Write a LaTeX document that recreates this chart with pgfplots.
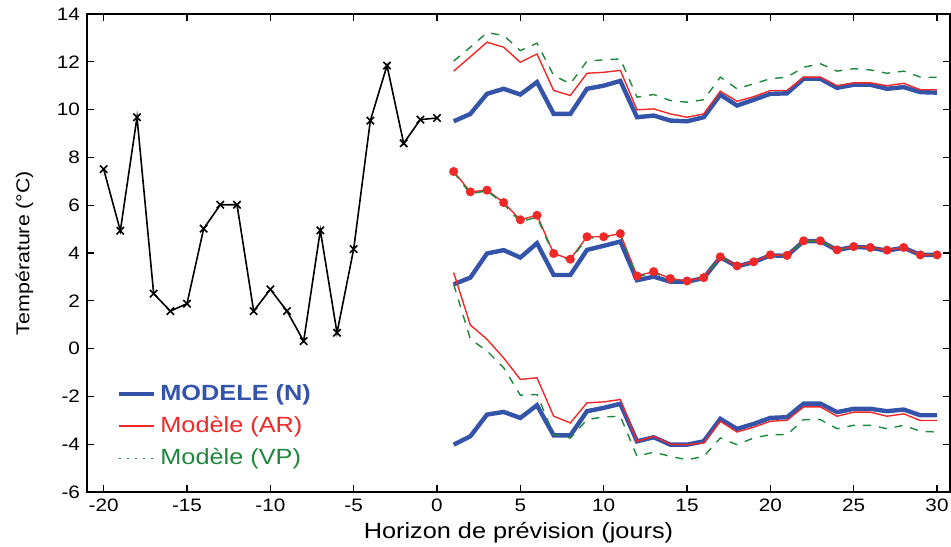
\documentclass[border=0pt]{standalone}
\usepackage{fontspec}
\setmainfont{Liberation Sans}[FakeStretch=1.15]
\usepackage{pgfplots}
\usepackage{pgfplotstable}
\pgfplotsset{compat=1.18}
\definecolor{modN}{RGB}{52,84,170}
\definecolor{modAR}{RGB}{240,40,40}
\definecolor{modVP}{RGB}{30,135,60}

% observed temperatures, days -20..0
\pgfplotstableread{
d t
-20 7.51
-19 4.93
-18 9.68
-17 2.30
-16 1.57
-15 1.88
-14 5.02
-13 6.02
-12 6.02
-11 1.57
-10 2.48
-9 1.57
-8 0.31
-7 4.95
-6 0.66
-5 4.16
-4 9.54
-3 11.84
-2 8.59
-1 9.58
0 9.65
}\tabobs

% upper bound
\pgfplotstableread{
d n ar vp
1 9.51 11.61 12.03
2 9.82 12.21 12.61
3 10.66 12.82 13.22
4 10.87 12.61 13.10
5 10.63 11.98 12.47
6 11.15 12.33 12.78
7 9.82 10.80 11.43
8 9.82 10.59 11.08
9 10.87 11.52 12.03
10 11.00 11.56 12.08
11 11.20 11.64 12.12
12 9.68 9.99 10.52
13 9.75 10.03 10.63
14 9.54 9.82 10.38
15 9.51 9.68 10.31
16 9.68 9.82 10.41
17 10.62 10.77 11.36
18 10.17 10.35 10.87
19 10.41 10.54 11.08
20 10.66 10.80 11.29
21 10.68 10.80 11.36
22 11.29 11.36 11.77
23 11.29 11.36 11.92
24 10.91 11.00 11.61
25 11.04 11.12 11.71
26 11.04 11.12 11.66
27 10.87 11.00 11.52
28 10.94 11.10 11.61
29 10.73 10.83 11.36
30 10.71 10.83 11.35
}\tabup

% point forecast
\pgfplotstableread{
d n ar vp
1 2.69 7.41 7.38
2 2.97 6.56 6.48
3 3.98 6.63 6.60
4 4.12 6.11 6.05
5 3.81 5.39 5.30
6 4.41 5.58 5.50
7 3.08 3.98 3.92
8 3.08 3.74 3.70
9 4.13 4.68 4.62
10 4.30 4.68 4.65
11 4.48 4.81 4.75
12 2.86 3.04 3.00
13 3.01 3.22 3.18
14 2.80 2.93 2.90
15 2.80 2.83 2.80
16 2.95 2.97 2.95
17 3.82 3.84 3.82
18 3.44 3.46 3.45
19 3.62 3.63 3.62
20 3.90 3.92 3.90
21 3.88 3.90 3.88
22 4.50 4.51 4.50
23 4.50 4.51 4.50
24 4.12 4.13 4.12
25 4.26 4.27 4.25
26 4.22 4.23 4.22
27 4.10 4.12 4.10
28 4.22 4.23 4.22
29 3.92 3.92 3.92
30 3.92 3.92 3.92
}\tabmid

% lower bound
\pgfplotstableread{
d n ar vp
1 -4.02 3.18 2.69
2 -3.67 0.99 0.40
3 -2.76 0.39 -0.10
4 -2.65 -0.39 -0.80
5 -2.90 -1.29 -1.95
6 -2.37 -1.22 -1.92
7 -3.63 -2.83 -3.60
8 -3.63 -3.11 -3.74
9 -2.62 -2.27 -2.97
10 -2.48 -2.23 -2.86
11 -2.31 -2.13 -2.83
12 -3.88 -3.88 -4.51
13 -3.71 -3.67 -4.33
14 -4.02 -4.00 -4.51
15 -4.02 -4.02 -4.65
16 -3.88 -3.95 -4.51
17 -2.94 -3.04 -3.74
18 -3.36 -3.49 -4.02
19 -3.15 -3.29 -3.74
20 -2.90 -3.04 -3.60
21 -2.87 -3.00 -3.60
22 -2.30 -2.44 -2.97
23 -2.30 -2.44 -2.97
24 -2.66 -2.83 -3.35
25 -2.52 -2.66 -3.21
26 -2.52 -2.66 -3.21
27 -2.62 -2.83 -3.35
28 -2.55 -2.73 -3.21
29 -2.79 -3.01 -3.46
30 -2.79 -3.01 -3.49
}\tablow

\begin{document}
\begin{tikzpicture}
\begin{axis}[
  name=ax,
  scale only axis,
  width=431.5pt, height=239pt,
  xmin=-21, xmax=30.78,
  ymin=-6, ymax=14,
  xtick={-20,-15,...,30},
  ytick={-6,-4,...,14},
  tick align=inside,
  major tick length=3.5pt,
  tick style={black, line width=0.6pt},
  axis line style={line width=0.6pt},
  /pgf/number format/assume math mode=true,
  ticklabel style={font=\fontsize{9}{10}\selectfont},
  xlabel={Horizon de prévision (jours)},
  ylabel={Température (°C)},
  xlabel style={font=\fontsize{11}{12}\selectfont, yshift=1.5pt},
  ylabel style={font=\fontsize{9.3}{11}\selectfont, yshift=5pt},
  legend style={draw=none, fill=none, at={(axis cs:-19.6,-1.15)}, anchor=north west,
    font=\fontsize{11}{12}\selectfont, row sep=2.5pt,
    /tikz/every even column/.append style={column sep=11pt}},
  legend cell align=left,
  legend image code/.code={\draw[#1] (0cm,0cm) -- (0.62cm,0cm);},
]
\addlegendimage{modN, line width=2.2pt}
\addlegendentry{\textcolor{modN}{\textbf{MODELE (N)}}}
\addlegendimage{modAR, line width=0.7pt}
\addlegendentry{\textcolor{modAR}{Modèle (AR)}}
\addlegendimage{modVP, line width=0.7pt, dash pattern=on 1pt off 3pt}
\addlegendentry{\textcolor{modVP}{Modèle (VP)}}

\addplot[forget plot, black, line width=0.8pt, mark=x, mark size=2.6pt] table[x=d, y=t] {\tabobs};

\addplot[forget plot, modN, line width=2.2pt] table[x=d, y=n] {\tabup};
\addplot[forget plot, modVP, line width=0.7pt, dash pattern=on 4pt off 4pt] table[x=d, y=vp] {\tabup};
\addplot[forget plot, modAR, line width=0.7pt] table[x=d, y=ar] {\tabup};

\addplot[forget plot, modN, line width=2.2pt] table[x=d, y=n] {\tabmid};
\addplot[forget plot, modAR, line width=0.7pt, mark=*, mark size=1.9pt] table[x=d, y=ar] {\tabmid};
\addplot[forget plot, modVP, line width=0.7pt, dash pattern=on 4pt off 4pt] table[x=d, y=vp] {\tabmid};

\addplot[forget plot, modN, line width=2.2pt] table[x=d, y=n] {\tablow};
\addplot[forget plot, modVP, line width=0.7pt, dash pattern=on 4pt off 4pt] table[x=d, y=vp] {\tablow};
\addplot[forget plot, modAR, line width=0.7pt] table[x=d, y=ar] {\tablow};
\end{axis}
\pgfresetboundingbox
\path (ax.south west) ++(-43.5pt,-27pt) coordinate (bl);
\path (ax.north east) ++(0.5pt,7pt) coordinate (tr);
\useasboundingbox (bl) rectangle (tr);
\end{tikzpicture}
\end{document}
